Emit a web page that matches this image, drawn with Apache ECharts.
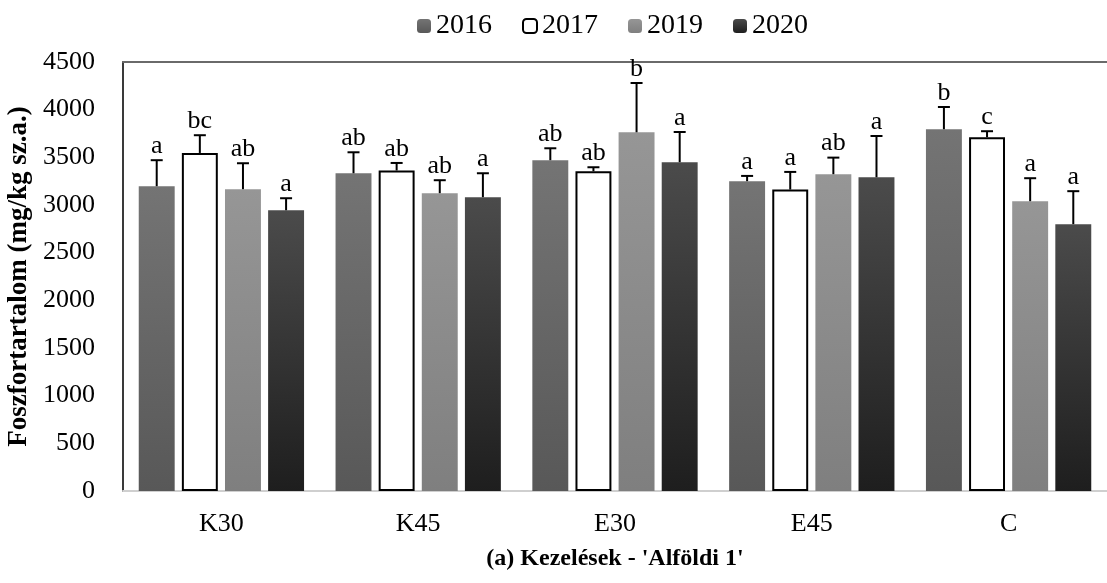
<!DOCTYPE html>
<html>
<head>
<meta charset="utf-8">
<script src="https://cdn.jsdelivr.net/npm/echarts@6/dist/echarts.min.js"></script>
<style>
  html, body { margin: 0; padding: 0; background: #fff; }
  #chartContainer { width: 1107px; height: 583px; }
</style>
</head>
<body>
<div id="chartContainer"></div>
<script>
var categories = ['K30', 'K45', 'E30', 'E45', 'C'];
var years = ['2016', '2017', '2019', '2020'];
var yTicks = [0, 500, 1000, 1500, 2000, 2500, 3000, 3500, 4000, 4500];

var values2016 = [3197, 3333, 3470, 3250, 3795];
var values2017 = [3546, 3362, 3354, 3162, 3711];
var values2019 = [3166, 3124, 3763, 3323, 3040];
var values2020 = [2945, 3082, 3449, 3291, 2799];

var errors2016 = [273, 220, 125, 55, 233];
var errors2017 = [186, 79, 42, 185, 63];
var errors2019 = [272, 136, 517, 174, 241];
var errors2020 = [126, 251, 317, 433, 346];

var letters2016 = ['a', 'ab', 'ab', 'a', 'b'];
var letters2017 = ['bc', 'ab', 'ab', 'a', 'c'];
var letters2019 = ['ab', 'ab', 'b', 'ab', 'a'];
var letters2020 = ['a', 'a', 'a', 'a', 'a'];

var allValues = [values2016, values2017, values2019, values2020];
var allErrors = [errors2016, errors2017, errors2019, errors2020];
var allLetters = [letters2016, letters2017, letters2019, letters2020];

var serif = '"Liberation Serif", "Times New Roman", serif';
var catGap = 0.16;
var barGap = 0.2;

function grad(top, bottom) {
    return new echarts.graphic.LinearGradient(0, 0, 0, 1, [
        { offset: 0, color: top },
        { offset: 1, color: bottom }
    ]);
}

var barStyles = [
    { color: grad('#747474', '#585858') },
    { color: '#ffffff', borderColor: '#000000', borderWidth: 2 },
    { color: grad('#969696', '#7f7f7f') },
    { color: grad('#4b4b4b', '#1e1e1e') }
];

var chart = echarts.init(document.getElementById('chartContainer'));

var series = [];
years.forEach(function (year, k) {
    series.push({
        name: year,
        type: 'bar',
        data: allValues[k],
        itemStyle: barStyles[k],
        barGap: (barGap * 100) + '%',
        barCategoryGap: (catGap * 100) + '%'
    });
});

// error bars + significance letters, placed on the same slots as the bars
years.forEach(function (year, k) {
    var data = categories.map(function (c, i) {
        return [i, allValues[k][i], allErrors[k][i]];
    });
    series.push({
        name: year + ' err',
        type: 'custom',
        z: 5,
        data: data,
        renderItem: function (params, api) {
            var band = api.size([1, 0])[0];
            var inner = band * (1 - catGap);
            var w = inner / (years.length + (years.length - 1) * barGap);
            var start = api.coord([api.value(0), 0])[0] - inner / 2;
            var x = start + k * w * (1 + barGap) + w / 2;
            var yBar = api.coord([api.value(0), api.value(1)])[1];
            var yTop = api.coord([api.value(0), api.value(1) + api.value(2)])[1];
            return {
                type: 'group',
                children: [
                    { type: 'line', shape: { x1: x, y1: yBar, x2: x, y2: yTop }, style: { stroke: '#000', lineWidth: 2 } },
                    { type: 'line', shape: { x1: x - 6, y1: yTop, x2: x + 6, y2: yTop }, style: { stroke: '#000', lineWidth: 2 } },
                    { type: 'text', x: x, y: yTop - 1, style: {
                        text: allLetters[k][params.dataIndex],
                        textAlign: 'center', textVerticalAlign: 'bottom',
                        font: '26px ' + serif, fill: '#000'
                    } }
                ]
            };
        }
    });
});

chart.setOption({
    animation: false,
    legend: {
        data: years,
        top: 7,
        left: 412,
        itemWidth: 14,
        itemHeight: 14,
        itemGap: 30,
        textStyle: { fontFamily: serif, fontSize: 28, color: '#000' }
    },
    grid: { left: 123, right: 0, top: 62, bottom: 92, outerBoundsMode: 'none' },
    xAxis: [{
        type: 'category',
        data: categories,
        axisTick: { show: false },
        axisLine: { lineStyle: { color: '#cfcfcf', width: 2 } },
        axisLabel: { margin: 20, fontFamily: serif, fontSize: 26, color: '#000' },
        name: "(a) Kezelések - 'Alföldi 1'",
        nameLocation: 'middle',
        nameGap: 56,
        nameTextStyle: { fontFamily: serif, fontSize: 24, fontWeight: 'bold', color: '#000' }
    }, {
        type: 'category',
        position: 'top',
        data: categories,
        axisTick: { show: false },
        axisLabel: { show: false },
        axisLine: { lineStyle: { color: '#6a6a6a', width: 2 } }
    }],
    yAxis: {
        type: 'value',
        min: yTicks[0],
        max: yTicks[yTicks.length - 1],
        interval: yTicks[1] - yTicks[0],
        splitLine: { show: false },
        axisTick: { show: false },
        axisLine: { show: true, lineStyle: { color: '#3a3a3a', width: 2 } },
        axisLabel: {
            margin: 28, fontFamily: serif, fontSize: 26, color: '#000',
            formatter: function (v) { return String(v); }
        },
        name: 'Foszfortartalom (mg/kg sz.a.)',
        nameLocation: 'middle',
        nameGap: 86,
        nameTextStyle: { fontFamily: serif, fontSize: 27, fontWeight: 'bold', color: '#000' }
    },
    series: series
});
</script>
</body>
</html>
